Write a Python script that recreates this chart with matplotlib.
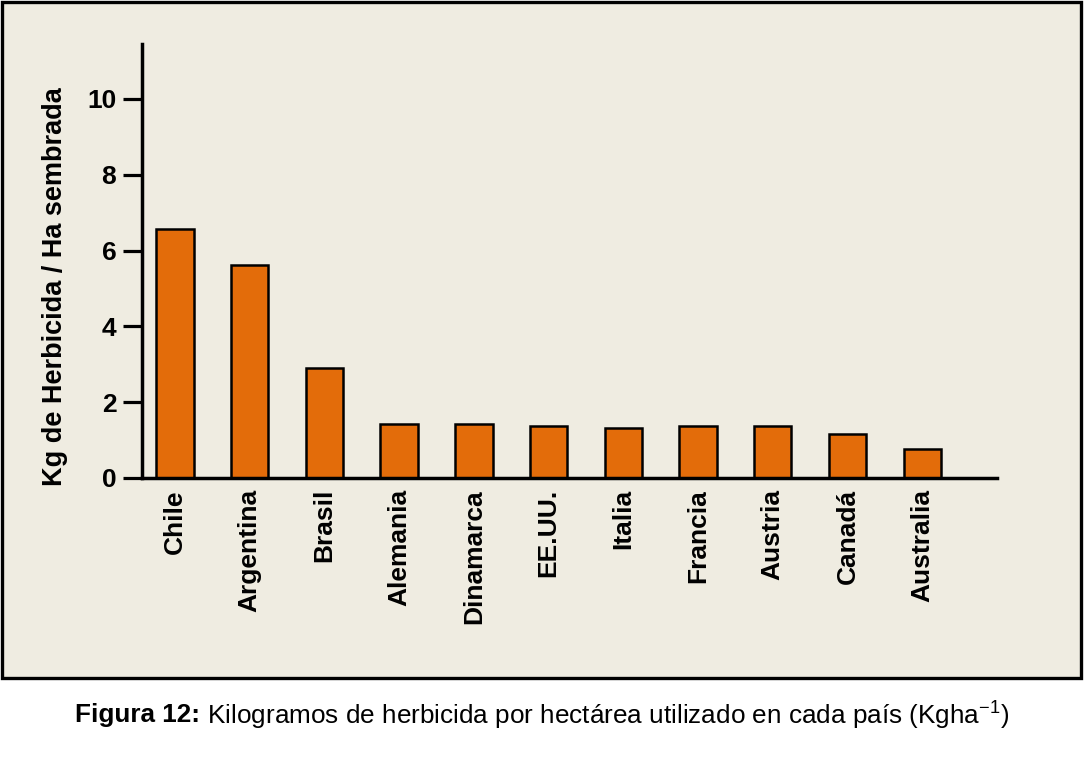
import matplotlib
matplotlib.use("Agg")
import matplotlib.pyplot as plt
from matplotlib.patches import Rectangle

# data (kg herbicide / ha sown)
paises = ["Chile", "Argentina", "Brasil", "Alemania", "Dinamarca", "EE.UU.",
          "Italia", "Francia", "Austria", "Canadá", "Australia"]
kg_ha = [6.57, 5.62, 2.90, 1.42, 1.42, 1.37, 1.32, 1.37, 1.37, 1.16, 0.77]
yticks = [0, 2, 4, 6, 8, 10]

plt.rcParams['font.family'] = ['Liberation Sans', 'DejaVu Sans']
plt.rcParams['mathtext.fontset'] = 'custom'
plt.rcParams['mathtext.rm'] = 'Liberation Sans'
plt.rcParams['mathtext.bf'] = 'Liberation Sans:bold'

fondo = '#EFECE1'
naranja = '#E36C0A'

W, H = 1085, 767
fig = plt.figure(figsize=(W/100, H/100), dpi=100)
fig.patch.set_facecolor('white')

# beige panel with black frame
marco = Rectangle((2/W, 1 - 678/H), 1079/W, 676/H,
                  transform=fig.transFigure, facecolor=fondo,
                  edgecolor='black', linewidth=2.4, zorder=-5)
fig.patches.append(marco)

ax = fig.add_axes([0.1309, 0.3768, 0.7880, 0.5658])
ax.set_facecolor('none')
ax.set_zorder(2)

x = list(range(len(paises)))
ax.bar(x, kg_ha, width=0.5, color=naranja, edgecolor='black', linewidth=1.8, zorder=3)

ax.set_xlim(-0.44, 11.0)
ax.set_ylim(0, 11.45)
ax.set_yticks(yticks)
ax.set_xticks(x)
ax.set_xticklabels(paises, rotation=90, fontsize=19, fontweight='bold')
for lbl in ax.get_yticklabels():
    lbl.set_fontweight('bold')
    lbl.set_fontsize(19)

ax.tick_params(axis='y', length=13.5, width=2.3, pad=5, direction='out')
ax.tick_params(axis='x', length=0, pad=8)

for s in ['top', 'right']:
    ax.spines[s].set_visible(False)
for s in ['left', 'bottom']:
    ax.spines[s].set_linewidth(2.5)
    ax.spines[s].set_zorder(4)

ax.set_ylabel("Kg de Herbicida / Ha sembrada", fontsize=19.5, fontweight='bold')
ax.yaxis.set_label_coords(-0.087, 0.44)

# caption: bold prefix + regular text, centred together
ycap = 1 - 715/H
t1 = fig.text(0, ycap, "Figura 12:", fontsize=18.8, fontweight='bold', va='center')
t2 = fig.text(0, ycap, " Kilogramos de herbicida por hectárea utilizado en cada país (Kgha$^{\\mathregular{-1}}$)",
              fontsize=18.8, va='center')
r = fig.canvas.get_renderer()
w1 = t1.get_window_extent(r).width / W
w2 = t2.get_window_extent(r).width / W
x0 = 0.5 - (w1 + w2) / 2
t1.set_x(x0)
t2.set_x(x0 + w1)

fig.savefig("out.png", dpi=100, facecolor=fig.get_facecolor())
